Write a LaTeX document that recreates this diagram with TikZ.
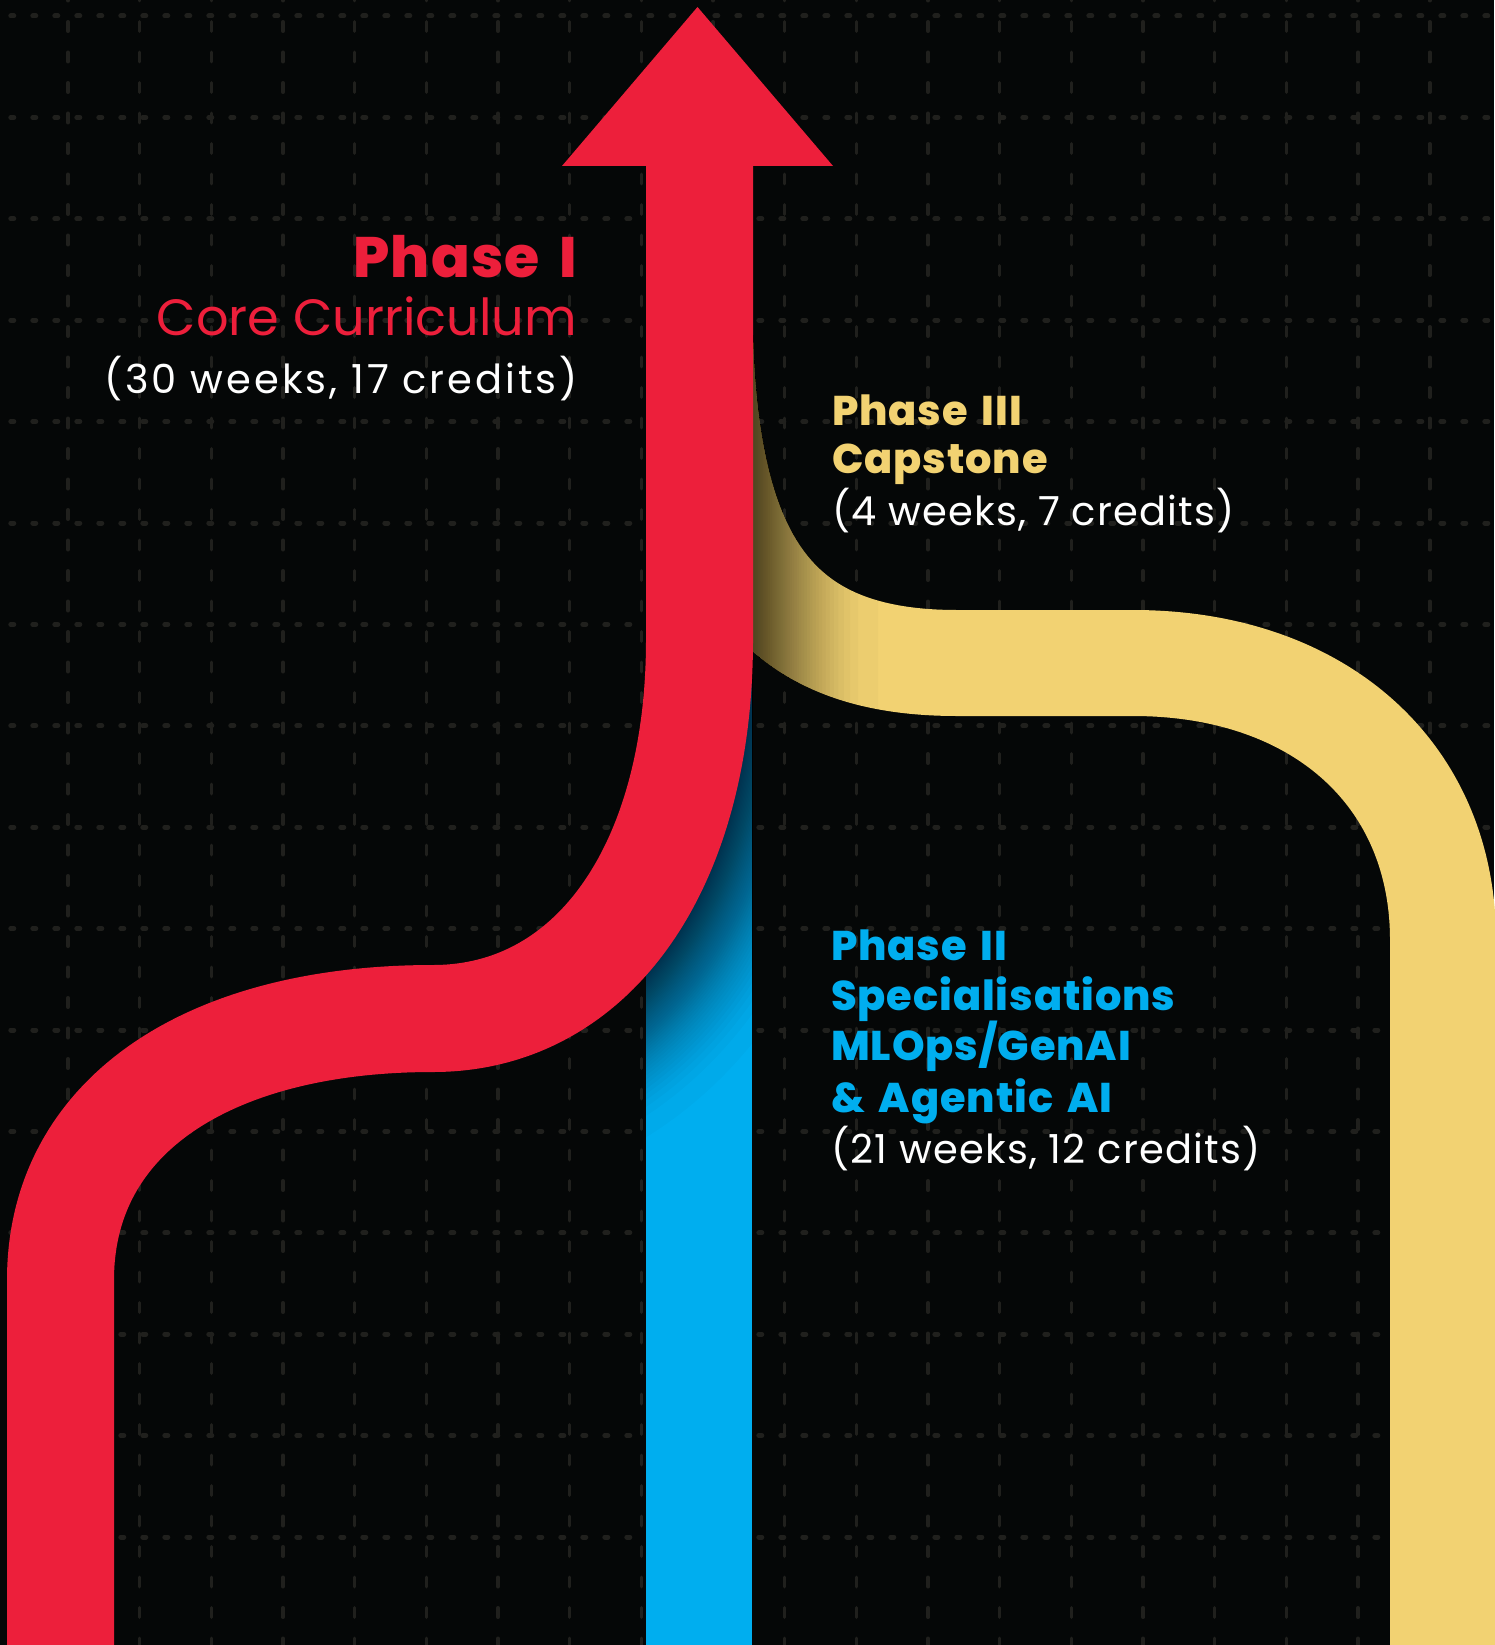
\documentclass[tikz,border=0pt]{standalone}
\usepackage{fontspec}
\setmainfont{Poppins}
\IfFontExistsTF{Poppins ExtraBold}{\newfontfamily\heavy{Poppins ExtraBold}[LetterSpace=2.2,WordSpace=1.6]}{\newcommand{\heavy}{\bfseries}}
\newfontfamily\regls{Poppins}[LetterSpace=3]
\newfontfamily\reglsw{Poppins}[LetterSpace=7.5]
\definecolor{bg}{RGB}{5,7,7}
\definecolor{gridc}{RGB}{32,32,29}
\definecolor{pred}{RGB}{237,31,59}
\definecolor{pyel}{RGB}{242,210,114}
\definecolor{pblue}{RGB}{0,174,239}
\tikzset{
  gridh/.style={gridc, line width=5pt, line cap=round, dash pattern=on 3pt off 19pt},
  gridv/.style={gridc, line width=3.5pt, line cap=round, dash pattern=on 9.5pt off 21pt},
  band/.style={line width=107pt, line cap=butt, line join=round},
  lbl/.style={inner sep=0pt, outer sep=0pt},
  bigbold/.style={font=\fontsize{57pt}{57pt}\selectfont\heavy},
  bigreg/.style={font=\fontsize{51pt}{51pt}\selectfont},
  midbold/.style={font=\fontsize{41.5pt}{41.5pt}\selectfont\heavy},
  midreg/.style={font=\fontsize{40pt}{40pt}\selectfont\regls},
  midregw/.style={font=\fontsize{40pt}{40pt}\selectfont\reglsw},
}
\begin{document}
\begin{tikzpicture}[x=1pt,y=-1pt]
\useasboundingbox (0,0) rectangle (1494,1645);
\fill[bg] (0,0) rectangle (1494,1645);
% grid
\foreach \k in {0,...,15} \draw[gridh] (10.8,{16+101.4*\k}) -- (1494,{16+101.4*\k});
\foreach \k in {0,...,19} \draw[gridv] ({68+71.67*\k},-8.75) -- ({68+71.67*\k},1650);
% yellow band (Phase III)
\draw[band, pyel, line width=106pt] (699.5,250) -- (699.5,300) .. controls (699.5,561) and (772,663) .. (957,663) -- (1133,663) .. controls (1319,663) and (1443,774) .. (1443,940) -- (1443,1660);
\foreach \i in {1,...,40}{
  \begin{scope}
    \clip (753,200) rectangle ({753+125*(1-sqrt(1-\i/40))},760);
    \draw[black, opacity=0.023, line width=106pt] (699.5,250) -- (699.5,300) .. controls (699.5,561) and (772,663) .. (957,663) -- (1133,663);
  \end{scope}
}
% blue band (Phase II)
\fill[pblue] (646,500) rectangle (752,1660);
\begin{scope}
  \clip (646,500) rectangle (752,1660);
  \foreach \i in {1,...,48}{
    \pgfmathsetmacro{\lw}{107+2*125*(1-sqrt(1-\i/48))}
    \draw[black, opacity=0.019, line width=\lw pt] (433,1018.5) .. controls (593,1018.5) and (699.5,867) .. (699.5,640) -- (699.5,500);
  }
\end{scope}
% red arrow (Phase I)
\draw[band, pred] (60.5,1660) -- (60.5,1280) .. controls (60.5,1114) and (211,1018.5) .. (433,1018.5) .. controls (593,1018.5) and (699.5,867) .. (699.5,640) -- (699.5,160);
\fill[pred] (562,166) -- (697.5,7) -- (833,166) -- cycle;
% labels
\node[lbl, anchor=base east, text=pred, bigbold] (p1a) at (577,277) {Phase I};
\node[lbl, anchor=base east, text=pred, bigreg] (p1b) at (577,335) {Core Curriculum};
\node[lbl, anchor=base east, text=white, midregw] (p1c) at (578,393) {(30 weeks, 17 credits)};
\node[lbl, anchor=base west, text=pyel, midbold] (p3a) at (832,425) {Phase III};
\node[lbl, anchor=base west, text=pyel, midbold] (p3b) at (832,473) {Capstone};
\node[lbl, anchor=base west, text=white, midreg] (p3c) at (832,525) {(4 weeks, 7 credits)};
\node[lbl, anchor=base west, text=pblue, midbold] (p2a) at (831,960) {Phase II};
\node[lbl, anchor=base west, text=pblue, midbold] (p2b) at (831,1010) {Specialisations};
\node[lbl, anchor=base west, text=pblue, midbold] (p2c) at (831,1060) {MLOps/GenAI};
\node[lbl, anchor=base west, text=pblue, midbold] (p2d) at (831,1112) {\& Agentic AI};
\node[lbl, anchor=base west, text=white, midreg] (p2e) at (831,1163) {(21 weeks, 12 credits)};
\end{tikzpicture}
\end{document}
